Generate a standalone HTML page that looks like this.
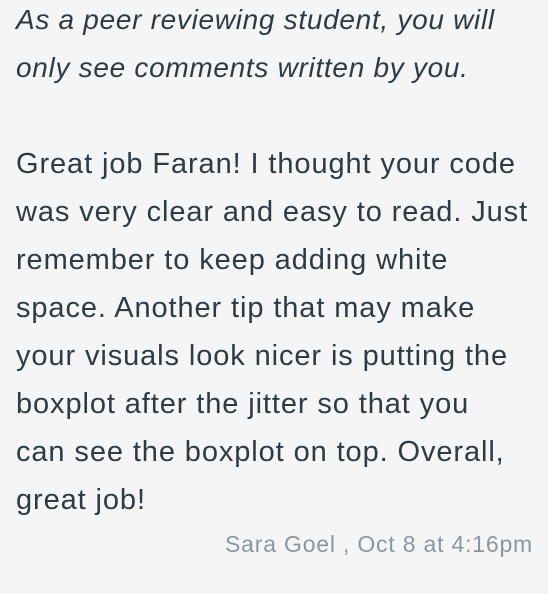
<!DOCTYPE html>
<html>
<head>
<meta charset="utf-8">
<style>
html,body{margin:0;padding:0;}
body{width:548px;height:594px;background:#f5f5f5;overflow:hidden;font-family:"Liberation Sans",sans-serif;color:#2d3b45;}
.line{position:absolute;left:16px;white-space:nowrap;font-size:29px;line-height:48px;height:48px;letter-spacing:0.9px;}
.it{font-style:italic;font-size:28px;letter-spacing:0.7px;}
.sig{position:absolute;right:15px;top:528px;font-size:23px;line-height:32px;color:#8b969e;white-space:nowrap;letter-spacing:0.8px;}
</style>
</head>
<body>
<div>
<div class="line it" style="top:-4px">As a peer reviewing student, you will</div>
<div class="line it" style="top:44px">only see comments written by you.</div>
</div>
<div>
<div class="line" style="top:140px">Great job Faran! I thought your code</div>
<div class="line" style="top:188px">was very clear and easy to read. Just</div>
<div class="line" style="top:236px">remember to keep adding white</div>
<div class="line" style="top:284px">space. Another tip that may make</div>
<div class="line" style="top:332px">your visuals look nicer is putting the</div>
<div class="line" style="top:380px">boxplot after the jitter so that you</div>
<div class="line" style="top:428px">can see the boxplot on top. Overall,</div>
<div class="line" style="top:476px">great job!</div>
</div>
<div class="sig">Sara Goel , Oct 8 at 4:16pm</div>
</body>
</html>
